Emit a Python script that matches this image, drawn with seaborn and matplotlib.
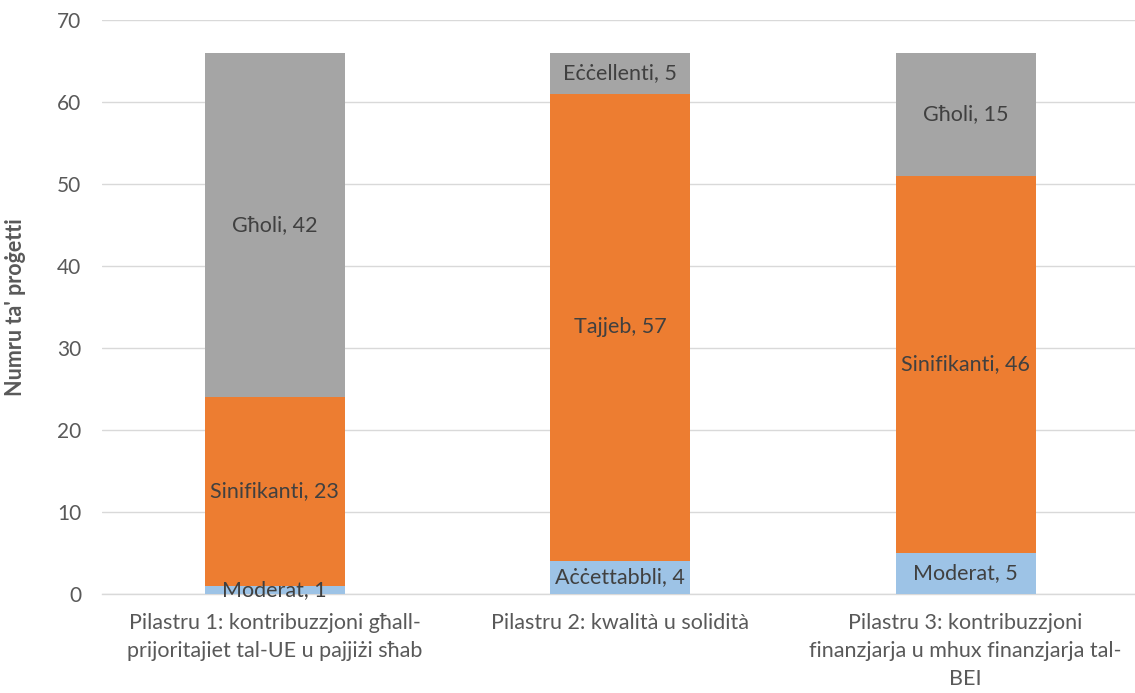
import matplotlib
matplotlib.use("Agg")
import matplotlib.pyplot as plt
import seaborn as sns
import pandas as pd
import numpy as np

categories = [
    "Pilastru 1: kontribuzzjoni għall-\nprijoritajiet tal-UE u pajjiżi sħab",
    "Pilastru 2: kwalità u solidità",
    "Pilastru 3: kontribuzzjoni\nfinanzjarja u mhux finanzjarja tal-\nBEI",
]
low_values = [1, 4, 5]
low_labels = ["Moderat", "Aċċettabbli", "Moderat"]
mid_values = [23, 57, 46]
mid_labels = ["Sinifikanti", "Tajjeb", "Sinifikanti"]
high_values = [42, 5, 15]
high_labels = ["Għoli", "Eċċellenti", "Għoli"]
y_ticks = [0, 10, 20, 30, 40, 50, 60, 70]

sns.set_theme(style="white")
plt.rcParams['font.family'] = ['Lato', 'DejaVu Sans']

c_low = "#9DC3E6"
c_mid = "#ED7D31"
c_high = "#A5A5A5"

fig = plt.figure(figsize=(11.35, 6.93), dpi=100)
ax = fig.add_axes([0.0899, 0.1429, 0.913, 0.8282])

cum_low = np.array(low_values, dtype=float)
cum_mid = cum_low + np.array(mid_values)
cum_high = cum_mid + np.array(high_values)

df = pd.DataFrame({"cat": categories, "low": cum_low, "mid": cum_mid, "high": cum_high})
for col, color in [("high", c_high), ("mid", c_mid), ("low", c_low)]:
    sns.barplot(data=df, x="cat", y=col, color=color, width=0.405, ax=ax,
                saturation=1, edgecolor="none", linewidth=0, zorder=3)

ax.set_xlim(-0.5, 2.5)
ax.set_ylim(0, 70)
ax.set_yticks(y_ticks)
ax.yaxis.grid(True, color="#D9D9D9", linewidth=1, zorder=0)
ax.set_axisbelow(True)
for s in ["top", "right", "left"]:
    ax.spines[s].set_visible(False)
ax.spines["bottom"].set_color("#D9D9D9")
ax.spines["bottom"].set_linewidth(1)
ax.tick_params(axis="x", length=0, labelsize=15.5, colors="#595959", pad=14)
ax.tick_params(axis="y", length=0, labelsize=15, colors="#595959", pad=15)
ax.set_xlabel("")
ax.set_ylabel("Numru ta' proġetti", fontsize=15.5, fontweight="bold", color="#595959", labelpad=22)
for lbl in ax.get_xticklabels():
    lbl.set_linespacing(1.5)
    lbl.set_verticalalignment("top")

bottoms_list = [np.zeros(3), cum_low, cum_mid]
vals_list = [low_values, mid_values, high_values]
labs_list = [low_labels, mid_labels, high_labels]
for bottoms, vals, labs in zip(bottoms_list, vals_list, labs_list):
    for i in range(3):
        ax.text(i, bottoms[i] + vals[i] / 2, f"{labs[i]}, {vals[i]}",
                ha="center", va="center", fontsize=15.5, color="#404040", zorder=5)

fig.savefig("out.png", dpi=100)
